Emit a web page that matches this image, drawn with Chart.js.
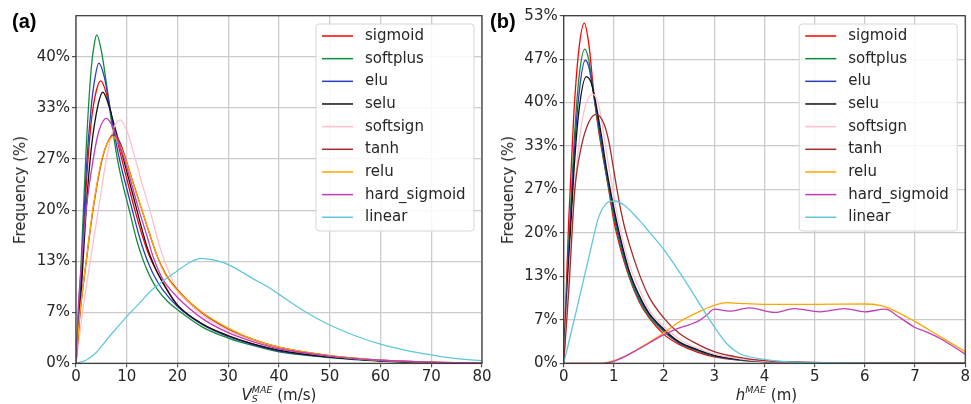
<!DOCTYPE html>
<html>
<head>
<meta charset="utf-8">
<script src="https://cdn.jsdelivr.net/npm/chart.js@4.4.0/dist/chart.umd.min.js"></script>
<style>
  body { margin: 0; background: #fff; }
  #fig { position: relative; width: 971px; height: 404px; overflow: hidden;
         font-family: "DejaVu Sans", sans-serif; color: #262626; }
  canvas { position: absolute; top: 0; }
  #cA { left: 0; z-index: 2; }
  #cB { left: 485px; z-index: 1; }
  .tag { position: absolute; top: 10.6px; font: bold 20px "Liberation Sans", Arial, sans-serif;
         line-height: 20px; color: #000; z-index: 3; }
  .ytitle { position: absolute; top: 190px; font-size: 15px; line-height: 18px; white-space: nowrap;
            transform: translate(-50%, -50%) rotate(-90deg); z-index: 3; }
  .xtitle { position: absolute; top: 385.8px; width: 300px; text-align: center; font-size: 15px;
            line-height: 18px; white-space: nowrap; z-index: 3; }
  .ss { position: relative; display: inline-block; line-height: 0; }
  .sp { position: relative; top: -6.5px; font-size: 9.5px; }
  .sb { position: absolute; left: 0; top: 4px; font-size: 9.5px; }
</style>
</head>
<body>
<div id="fig">
  <canvas id="cA" width="500" height="404"></canvas>
  <canvas id="cB" width="486" height="404"></canvas>
  <div class="tag" style="left:12px">(a)</div>
  <div class="tag" style="left:490px">(b)</div>
  <div class="ytitle" style="left:20px">Frequency (%)</div>
  <div class="ytitle" style="left:508px">Frequency (%)</div>
  <div class="xtitle" style="left:129px"><i>V</i><span class="ss"><i class="sp">MAE</i><i class="sb">S</i></span> (m/s)</div>
  <div class="xtitle" style="left:616.5px"><i>h</i><span class="ss"><i class="sp">MAE</i></span> (m)</div>
</div>
<script>
const activations = ['sigmoid', 'softplus', 'elu', 'selu', 'softsign', 'tanh', 'relu', 'hard_sigmoid', 'linear'];
const lineColors = ['#ff0000', '#118c3c', '#2a40b8', '#111111', '#ffc0cb', '#a52a2a', '#ffa500', '#c03cb8', '#5ec8da'];

// (a) frequency (%) vs V_S MAE (m/s), [x, y] pairs
const vsSigmoid = [[0,0],[1,10],[2,23],[3,31.5],[4,35.6],[4.9,36.9],[6,35.2],[7,32.3],[8,29.4],[9,26.7],[10,24.1],[11.6,20],[13,16.8],[14,14.8],[15,13.2],[16,11.9],[18,9.6],[20,7.6],[25,5.1],[30,3.6],[35,2.5],[40,1.7],[50,0.85],[60,0.35],[70,0.12],[80,0.04]];
const vsSoftplus = [[0,0],[1,13],[2,28],[3,38.5],[3.6,41.7],[4.1,42.9],[5,40.8],[6,36.5],[7,31.5],[8.15,26.7],[9,24],[10.5,20],[12,16],[13,13.9],[14,12.2],[15,10.8],[16,9.7],[18,8.1],[20,7.0],[25,4.7],[30,3.3],[35,2.3],[40,1.5],[50,0.75],[60,0.3],[70,0.1],[80,0.03]];
const vsElu = [[0,0],[1,11],[2,25],[3,33.5],[3.8,37.5],[4.5,39.2],[5.5,37.6],[6.5,34.2],[7.5,30.2],[8.55,26.7],[9.5,24.1],[11.1,20],[12.5,16.5],[13.5,14.4],[14.5,12.7],[15.5,11.3],[17,9.7],[20,7.4],[25,5],[30,3.5],[35,2.4],[40,1.6],[50,0.8],[60,0.35],[70,0.12],[80,0.04]];
const vsSelu = [[0,0],[1,9],[2,20],[2.8,26.7],[4,32.6],[5.3,35.4],[6.5,33.6],[7.5,31.2],[8.5,28.8],[9.35,26.7],[10.5,23.8],[12,20],[13,17.5],[14,15.2],[15,13.4],[16,11.9],[18,9.5],[20,7.6],[25,5.1],[30,3.6],[35,2.5],[40,1.7],[50,0.8],[60,0.33],[70,0.11],[80,0.04]];
const vsSoftsign = [[0,0],[1.3,6.7],[2.8,13.3],[4.4,20],[6,26.7],[7.3,30.5],[8.7,31.8],[10,30.4],[11.6,26.9],[13,23.5],[14.6,19.9],[16,16.4],[17.2,13.8],[18.5,11.6],[20,9.5],[22.5,7.7],[25,6.2],[30,4.3],[35,3.0],[40,2.0],[50,0.95],[60,0.4],[70,0.14],[80,0.05]];
const vsTanh = [[0,0],[0.8,6.5],[2,13.2],[3.3,19.8],[5.1,26.5],[6.4,29.1],[7.6,29.9],[8.7,28.8],[9.8,26.7],[11.3,23.5],[13,20],[14.5,16.9],[16,14.0],[17,12.5],[18,11.3],[20,9.6],[25,6.5],[30,4.5],[35,3.1],[40,2.1],[50,1.0],[60,0.42],[70,0.15],[80,0.05]];
const vsRelu = [[0,0],[0.8,6.7],[2,13.3],[3.3,20],[5.1,26.7],[6.3,28.9],[7.3,29.6],[8.5,28.6],[9.7,26.7],[11.3,23.4],[13,20],[14.5,16.9],[16,14.0],[17,12.4],[18,11.2],[20,9.5],[25,6.6],[30,4.6],[35,3.1],[40,2.1],[50,1.0],[60,0.42],[70,0.15],[80,0.05]];
const vsHardSigmoid = [[0,0],[0.4,6.7],[1.1,13.3],[2,20],[3.4,26.7],[4.5,30.3],[6,32],[7.3,30.8],[8.5,28.6],[9.5,26.7],[11,23.3],[12.4,20],[14,16.6],[15,14.3],[16,12.5],[17,11.1],[18,10.1],[20,8.6],[25,5.8],[30,4.0],[35,2.8],[40,1.9],[50,0.95],[60,0.4],[70,0.14],[80,0.05]];
const vsLinear = [[0,0],[2,0.4],[4,1.4],[5,2.2],[6.7,3.6],[8,4.6],[10,6.1],[12,7.5],[15,9.6],[20,12.1],[22.5,13.2],[24.7,13.7],[27,13.5],[30,12.9],[35,11.0],[38,9.9],[40,9.0],[45,6.8],[50,5.0],[55,3.6],[60,2.5],[65,1.7],[70,1.1],[75,0.6],[80,0.35]];

// (b) frequency (%) vs h MAE (m), [x, y] pairs
const hSigmoid = [[0,0],[0.1,22],[0.2,38],[0.3,48],[0.41,52.2],[0.5,49],[0.6,41.5],[0.7,35.5],[0.8,31],[0.9,26.5],[1.0,21.8],[1.1,18.5],[1.3,13.3],[1.5,9.5],[1.7,7.0],[2,4.4],[2.3,2.9],[2.7,1.6],[3,1.0],[3.5,0.5],[4,0.25],[5,0.08],[6,0.02],[8,0]];
const hSoftplus = [[0,0],[0.1,18],[0.2,33],[0.3,43.5],[0.42,48.2],[0.5,46.5],[0.6,41],[0.7,36],[0.8,31],[0.9,26.8],[1.0,22.5],[1.1,19],[1.3,13.5],[1.5,9.7],[1.7,7.2],[2,4.8],[2.3,3.1],[2.7,1.8],[3,1.1],[3.5,0.5],[4,0.25],[5,0.08],[6,0.02],[8,0]];
const hElu = [[0,0],[0.1,17],[0.2,31],[0.3,41],[0.43,46.5],[0.5,45.5],[0.6,41.2],[0.7,36.5],[0.8,31.5],[0.9,27.2],[1.0,23.2],[1.1,19.6],[1.3,14],[1.5,10.1],[1.7,7.5],[2,5.0],[2.3,3.2],[2.7,1.9],[3,1.15],[3.5,0.55],[4,0.27],[5,0.08],[6,0.02],[8,0]];
const hSelu = [[0,0],[0.1,15],[0.2,29],[0.3,38.5],[0.45,44],[0.55,43],[0.65,39.5],[0.75,35],[0.85,30],[1.0,23.8],[1.1,20.2],[1.3,14.3],[1.5,10.5],[1.7,7.7],[2,5.2],[2.3,3.3],[2.7,2.0],[3,1.2],[3.5,0.6],[4,0.3],[5,0.1],[6,0.03],[8,0]];
const hSoftsign = [[0,0],[0.1,13],[0.2,25],[0.3,33.5],[0.4,38.5],[0.58,41.3],[0.7,39.5],[0.8,35],[0.9,30],[1.0,25.6],[1.1,21.5],[1.3,15.3],[1.5,11.5],[1.7,8.2],[2,5.6],[2.3,3.7],[2.7,2.2],[3,1.4],[3.5,0.7],[4,0.3],[5,0.1],[6,0.03],[8,0]];
const hTanh = [[0,0],[0.1,11],[0.22,26.5],[0.35,33.2],[0.5,37],[0.65,38.2],[0.8,36.8],[0.9,34],[1.0,29.5],[1.1,25],[1.2,21.3],[1.31,18.2],[1.5,13.8],[1.7,10.2],[2,6.9],[2.3,4.6],[2.7,2.8],[3,1.8],[3.5,0.9],[4,0.4],[5,0.12],[6,0.03],[8,0]];
const hRelu = [[0,0],[0.75,0],[1.0,0.4],[1.2,1.0],[1.5,2.3],[2,4.7],[2.29,6.3],[2.69,7.9],[3,8.9],[3.25,9.3],[3.5,9.2],[4,9.05],[5,9.05],[6,9.1],[6.3,8.9],[6.5,8.4],[7,6.4],[7.5,4.1],[8,1.8]];
const hHardSigmoid = [[0,0],[0.75,0],[1.0,0.3],[1.5,2.2],[2,4.4],[2.29,5.4],[2.5,5.9],[2.69,6.5],[2.85,7.4],[3,8.3],[3.3,8.0],[3.7,8.5],[4.2,7.8],[4.6,8.4],[5.1,7.9],[5.6,8.4],[6.0,7.9],[6.4,8.3],[6.7,7.0],[7,5.5],[7.2,4.9],[7.5,3.8],[8,1.4]];
const hLinear = [[0,0],[0.25,8],[0.52,16.9],[0.7,22.5],[0.85,24.5],[1.01,24.9],[1.2,24.3],[1.5,22],[1.7,20.2],[2,17.4],[2.5,11.7],[2.7,9.2],[3,5.6],[3.25,3.0],[3.5,1.5],[4,0.6],[4.5,0.2],[5,0.1],[6,0.02],[8,0]];

const vsSeries = [vsSigmoid, vsSoftplus, vsElu, vsSelu, vsSoftsign, vsTanh, vsRelu, vsHardSigmoid, vsLinear];
const hSeries = [hSigmoid, hSoftplus, hElu, hSelu, hSoftsign, hTanh, hRelu, hHardSigmoid, hLinear];

// y ticks sit at multiples of 1/15
const vsTickLabels = ['0%', '7%', '13%', '20%', '27%', '33%', '40%'];
const hTickLabels = ['0%', '7%', '13%', '20%', '27%', '33%', '40%', '47%', '53%'];
const vsYMax = 45.4;
const hYMax = 160 / 3;

Chart.defaults.font.family = 'DejaVu Sans';
Chart.defaults.color = '#262626';

// frame around the plot area + legend box in the upper right
const framePlugin = {
  id: 'frame',
  afterDatasetsDraw(chart) {
    const { ctx, chartArea: a } = chart;
    ctx.save();
    ctx.strokeStyle = '#333';
    ctx.lineWidth = 1.2;
    ctx.strokeRect(a.left, a.top, a.right - a.left, a.bottom - a.top);
    ctx.restore();
  },
  afterDraw(chart) {
    const { ctx, chartArea: a } = chart;
    const w = 158, h = 207;
    const x0 = a.right - 8 - w, y0 = a.top + 8.3;
    ctx.save();
    ctx.fillStyle = 'rgba(255,255,255,0.85)';
    ctx.strokeStyle = '#d6d6d6';
    ctx.lineWidth = 1;
    ctx.beginPath();
    ctx.roundRect(x0, y0, w, h, 3);
    ctx.fill();
    ctx.stroke();
    ctx.font = '15px "DejaVu Sans"';
    ctx.textBaseline = 'middle';
    chart.data.datasets.forEach((ds, i) => {
      const y = y0 + 12 + i * 22.66;
      ctx.strokeStyle = ds.borderColor;
      ctx.lineWidth = 1.5;
      ctx.beginPath();
      ctx.moveTo(x0 + 6, y);
      ctx.lineTo(x0 + 37, y);
      ctx.stroke();
      ctx.fillStyle = '#262626';
      ctx.fillText(ds.label, x0 + 49, y);
    });
    ctx.restore();
  }
};

function makePanel(id, series, xMax, xStep, yMax, tickLabels, yAxisWidth, rightPad) {
  const datasets = series.map((pts, i) => ({
    label: activations[i],
    data: pts.map(([x, y]) => ({ x, y })),
    borderColor: lineColors[i],
    borderWidth: 1.3,
    pointRadius: 0,
    cubicInterpolationMode: 'monotone',
    fill: false,
    order: series.length - i
  }));

  return new Chart(document.getElementById(id), {
    type: 'line',
    data: { datasets },
    options: {
      responsive: false,
      animation: false,
      events: [],
      layout: { autoPadding: false, padding: { top: 15.7, right: rightPad, bottom: 0, left: 0 } },
      plugins: { legend: { display: false }, tooltip: { enabled: false } },
      scales: {
        x: {
          type: 'linear',
          min: 0,
          max: xMax,
          afterFit: s => { s.height = 40.7; },
          ticks: { stepSize: xStep, maxRotation: 0, autoSkip: false, padding: 1,
                   font: { size: 15 }, color: '#262626' },
          grid: { color: '#cbcbcb', lineWidth: 1.3, tickColor: '#333', tickLength: 4, tickWidth: 1 },
          border: { display: false }
        },
        y: {
          type: 'linear',
          min: 0,
          max: yMax,
          afterFit: s => { s.width = yAxisWidth; },
          afterBuildTicks: s => { s.ticks = tickLabels.map((_, k) => ({ value: k * 100 / 15 })); },
          ticks: { callback: (v, k) => tickLabels[k], padding: 2, font: { size: 15 }, color: '#262626' },
          grid: { color: '#cbcbcb', lineWidth: 1.3, tickColor: '#333', tickLength: 4, tickWidth: 1 },
          border: { display: false }
        }
      }
    },
    plugins: [framePlugin]
  });
}

makePanel('cA', vsSeries, 80, 10, vsYMax, vsTickLabels, 76, 18);
makePanel('cB', hSeries, 8, 1, hYMax, hTickLabels, 78.7, 1.7);
</script>
</body>
</html>
